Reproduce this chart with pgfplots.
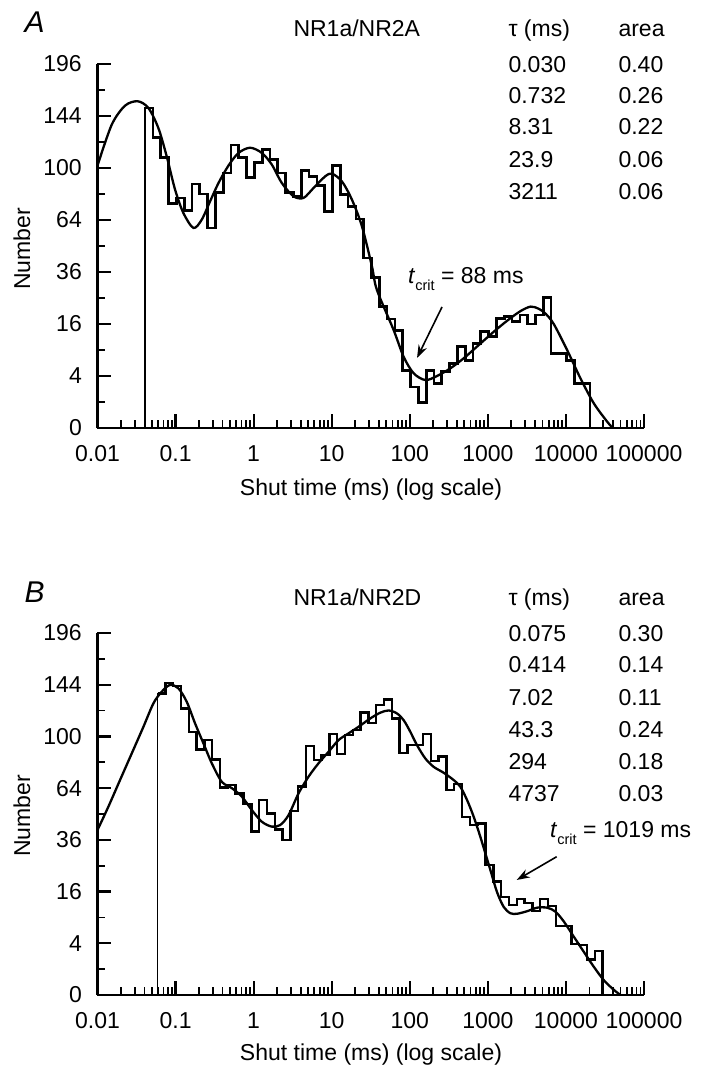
\documentclass[border=0pt]{standalone}
\usepackage{fontspec}
\setmainfont{Liberation Sans}
\usepackage{pgfplots}
\pgfplotsset{compat=1.18}
\usetikzlibrary{arrows.meta}
\newcommand{\fs}{\fontsize{23}{27}\selectfont}
\newcommand{\tcrit}{\textit{t}\raisebox{-7pt}{\fontsize{14.5}{16}\selectfont crit}}

\begin{document}
\begin{tikzpicture}[x=1pt,y=1pt]
\useasboundingbox (0,0) rectangle (702,1073);

% ---------------- Panel A ----------------
\begin{axis}[
    at={(97.5pt,645pt)}, anchor=south west,
    scale only axis, width=546.5pt, height=364pt,
    xmode=log, xmin=0.01, xmax=100000,
    ymin=0, ymax=196,
    y coord trafo/.code={\pgfmathparse{sqrt(#1)}},
    y coord inv trafo/.code={\pgfmathparse{(#1)^2}},
    axis lines=left,
    axis line style={-, line width=2.4pt, black},
    tick align=inside,
    xtick={0.01,0.1,1,10,100,1000,10000,100000},
    xticklabels={0.01,0.1,1,10,100,1000,10000,100000},
    minor xtick={0.02,0.03,0.04,0.05,0.06,0.07,0.08,0.09,
      0.2,0.3,0.4,0.5,0.6,0.7,0.8,0.9,
      2,3,4,5,6,7,8,9,
      20,30,40,50,60,70,80,90,
      200,300,400,500,600,700,800,900,
      2000,3000,4000,5000,6000,7000,8000,9000,
      20000,30000,40000,50000,60000,70000,80000,90000},
    ytick={0,4,16,36,64,100,144,196},
    yticklabels={0,4,16,36,64,100,144,196},
    minor ytick={1,9,25,49,81,121,169},
    major tick length=14pt,
    minor tick length=7.5pt,
    major tick style={line width=2.2pt, black},
    minor tick style={line width=1.8pt, black},
    tick label style={font=\fs, inner sep=0pt},
    xticklabel style={yshift=-17pt},
    yticklabel style={xshift=-15.5pt},
    clip=false,
]
\addplot[const plot, line width=2.7pt, black, mark=none] coordinates {
(0.040738,0) (0.040738,151.5) (0.051286,125) (0.064565,108) (0.081283,74.4)
(0.10233,78.3) (0.12882,69.9) (0.16218,88) (0.20417,81) (0.25704,59.2)
(0.32359,82.2) (0.40738,96.2) (0.51286,118.5) (0.64565,108) (0.81283,93)
(1.0233,104) (1.2882,114.6) (1.6218,106.5) (2.0417,96.2) (2.5704,82.2)
(3.2359,79.4) (4.0738,98) (5.1286,93.7) (6.4565,86.9) (8.1283,69.4)
(10.233,101.8) (12.882,80.5) (16.218,72.7) (20.417,64.6) (25.704,42.8)
(32.359,33.6) (40.738,21.8) (51.286,17.6) (64.565,14) (81.283,4.9)
(102.33,2.5) (128.82,0.95) (162.18,4.9) (204.17,2.9) (257.04,4.7)
(323.59,6.1) (407.38,9.8) (512.86,6.8) (645.65,10.6) (812.83,13.7)
(1023.3,12.3) (1288.2,17.8) (1621.8,18.3) (2041.7,16.7) (2570.4,18.9)
(3235.9,16) (4073.8,18.9) (5128.6,25.1) (6456.5,8.2) (8128.3,8.2)
(10233,6.8) (12882,2.95) (16218,2.95) (20417,2.95) (20417,0)
};
\addplot[smooth, line width=2.3pt, black, mark=none] coordinates {
(0.01,101.8) (0.0152,136) (0.02254,153.7) (0.03273,157.9) (0.04487,151.5)
(0.06026,133) (0.0771,109) (0.0986,84) (0.1259,68.4) (0.1694,59.2)
(0.2163,64.2) (0.2767,76) (0.3548,88.8) (0.4753,101.8) (0.6397,111.9)
(0.9016,116.2) (1.274,111.9) (1.71,102.6) (2.296,88.8) (3.243,79.4)
(4.355,78.3) (5.848,85.2) (8.26,93.7) (10.05,95.7) (13.49,90)
(18.16,77.1) (24.38,60.2) (32.73,38.7) (37.93,28.2) (62.1,14.2)
(83.4,7.5) (112.2,4.42) (158.5,3.4) (223.4,4.0) (331.1,5.27)
(489.8,7.18) (726.1,9.8) (1189,13.7) (1762,17) (2612,20.2)
(3548,21.8) (4500,21) (5500,19.3) (6982,16) (10351,9) (15346,3.65)
(22751,0.9) (33729,0.06) (39811,0)
};
\end{axis}

\node[anchor=base west, font=\fontsize{30}{34}\selectfont\itshape] at (21,1040) {A};
\node[anchor=base west, font=\fs] at (290,1036) {NR1a/NR2A};
\node[anchor=base west, font=\fs] at (505,1036) {τ (ms)};
\node[anchor=base west, font=\fs] at (615,1036) {area};
\node[anchor=base west, font=\fs] at (505,1000) {0.030};
\node[anchor=base west, font=\fs] at (615,1000) {0.40};
\node[anchor=base west, font=\fs] at (505,969) {0.732};
\node[anchor=base west, font=\fs] at (615,969) {0.26};
\node[anchor=base west, font=\fs] at (505,938) {8.31};
\node[anchor=base west, font=\fs] at (615,938) {0.22};
\node[anchor=base west, font=\fs] at (505,905) {23.9};
\node[anchor=base west, font=\fs] at (615,905) {0.06};
\node[anchor=base west, font=\fs] at (505,873) {3211};
\node[anchor=base west, font=\fs] at (615,873) {0.06};
\node[rotate=90, font=\fs] at (22,824) {Number};
\node[font=\fs] at (371,583) {Shut time (ms) (log scale)};
\node[anchor=base west, font=\fs, inner sep=0pt] at (408,789) {\tcrit{} = 88 ms};
\draw[-{Stealth[length=13pt,width=9pt]}, line width=1.6pt] (442,766) -- (417,715);

% ---------------- Panel B ----------------
\begin{axis}[
    at={(97.5pt,78pt)}, anchor=south west,
    scale only axis, width=546.5pt, height=362pt,
    xmode=log, xmin=0.01, xmax=100000,
    ymin=0, ymax=196,
    y coord trafo/.code={\pgfmathparse{sqrt(#1)}},
    y coord inv trafo/.code={\pgfmathparse{(#1)^2}},
    axis lines=left,
    axis line style={-, line width=2.4pt, black},
    tick align=inside,
    xtick={0.01,0.1,1,10,100,1000,10000,100000},
    xticklabels={0.01,0.1,1,10,100,1000,10000,100000},
    minor xtick={0.02,0.03,0.04,0.05,0.06,0.07,0.08,0.09,
      0.2,0.3,0.4,0.5,0.6,0.7,0.8,0.9,
      2,3,4,5,6,7,8,9,
      20,30,40,50,60,70,80,90,
      200,300,400,500,600,700,800,900,
      2000,3000,4000,5000,6000,7000,8000,9000,
      20000,30000,40000,50000,60000,70000,80000,90000},
    ytick={0,4,16,36,64,100,144,196},
    yticklabels={0,4,16,36,64,100,144,196},
    minor ytick={1,9,25,49,81,121,169},
    major tick length=14pt,
    minor tick length=7.5pt,
    major tick style={line width=2.2pt, black},
    minor tick style={line width=1.8pt, black},
    tick label style={font=\fs, inner sep=0pt},
    xticklabel style={yshift=-17pt},
    yticklabel style={xshift=-15.5pt},
    clip=false,
]
\addplot[line width=1.3pt, black, mark=none] coordinates {
(0.058884,0) (0.058884,136)
};
\addplot[const plot, line width=2.4pt, black, mark=none] coordinates {
(0.058884,136) (0.074131,145.8) (0.093325,143) (0.11749,122.8) (0.14791,103.6)
(0.18621,90.2) (0.23442,97.2) (0.29512,83) (0.37154,64.5) (0.46774,65.9)
(0.58884,60.8) (0.74131,54.5) (0.93325,39.9) (1.1749,56.8) (1.4791,49.3)
(1.8621,41) (2.3442,35.9) (2.9512,50.8) (3.7154,64.9) (4.6774,92.7)
(5.8884,82.5) (7.4131,86.1) (9.3325,101.8) (11.749,86.8) (14.791,101)
(18.621,105) (23.442,119.5) (29.512,110.9) (37.154,125.7) (46.774,130.7)
(58.884,114.4) (74.131,87.8) (93.325,93.4) (117.49,93.4) (147.91,101.8)
(186.21,82) (234.42,85) (295.12,62.8) (371.54,66.5) (467.74,47.5)
(588.84,43.2) (741.31,44) (933.25,25.3) (1174.9,19.2) (1479.1,14.3)
(1862.1,12.1) (2344.2,13.8) (2951.2,12.6) (3715.4,10.6) (4677.4,13.7)
(5888.4,11.8) (7413.1,7.1) (9332.5,7.1) (11749,3.9) (14791,3.7)
(18621,1.9) (23442,2.9) (29512,2.9) (29512,0)
};
\addplot[smooth, line width=2.3pt, black, mark=none] coordinates {
(0.01,40.7) (0.01377,53) (0.0194,69) (0.02742,87.2) (0.0387,107.5)
(0.052,127.2) (0.0665,137.6) (0.0849,143.8) (0.1086,140.7) (0.139,128.6)
(0.1778,110.3) (0.2275,94.7) (0.2911,80.3) (0.3908,68) (0.5248,64)
(0.7047,58.9) (0.9462,51.2) (1.274,44.9) (1.71,42.4) (2.188,43.2)
(2.8,48.4) (3.76,60.8) (5.05,71.3) (6.78,80.3) (9.12,88.5)
(12.24,97.2) (16.44,102.4) (22.08,107.6) (31.2,114.4) (41.9,119.2)
(53.6,121.1) (68.5,118.6) (83.4,113) (101.4,103.7) (123.6,93.4)
(158.1,83.7) (201.8,77.9) (271,73.9) (364.6,69.1) (443.6,64.9)
(540.8,56.9) (657.7,47.6) (801.4,37.4) (1076,23.4) (1312,15.8)
(1596,11.6) (1941,10.0) (2366,9.87) (3184,10.5) (4276,11.4)
(5741,11.4) (7332,10.4) (9376,8.1) (12590,5.1) (16900,2.8)
(22700,1.2) (30540,0.33) (41020,0.04) (50000,0)
};
\end{axis}

\node[anchor=base west, font=\fontsize{30}{34}\selectfont\itshape] at (21,470) {B};
\node[anchor=base west, font=\fs] at (290,467) {NR1a/NR2D};
\node[anchor=base west, font=\fs] at (505,467) {τ (ms)};
\node[anchor=base west, font=\fs] at (615,467) {area};
\node[anchor=base west, font=\fs] at (505,431) {0.075};
\node[anchor=base west, font=\fs] at (615,431) {0.30};
\node[anchor=base west, font=\fs] at (505,400) {0.414};
\node[anchor=base west, font=\fs] at (615,400) {0.14};
\node[anchor=base west, font=\fs] at (505,367.5) {7.02};
\node[anchor=base west, font=\fs] at (615,367.5) {0.11};
\node[anchor=base west, font=\fs] at (505,335.5) {43.3};
\node[anchor=base west, font=\fs] at (615,335.5) {0.24};
\node[anchor=base west, font=\fs] at (505,303) {294};
\node[anchor=base west, font=\fs] at (615,303) {0.18};
\node[anchor=base west, font=\fs] at (505,271) {4737};
\node[anchor=base west, font=\fs] at (615,271) {0.03};
\node[rotate=90, font=\fs] at (22,257) {Number};
\node[font=\fs] at (371,18) {Shut time (ms) (log scale)};
\node[anchor=base west, font=\fs, inner sep=0pt] at (550,235) {\tcrit{} = 1019 ms};
\draw[-{Stealth[length=13pt,width=9pt]}, line width=1.6pt] (556.7,216.3) -- (516.7,193);
\end{tikzpicture}
\end{document}
